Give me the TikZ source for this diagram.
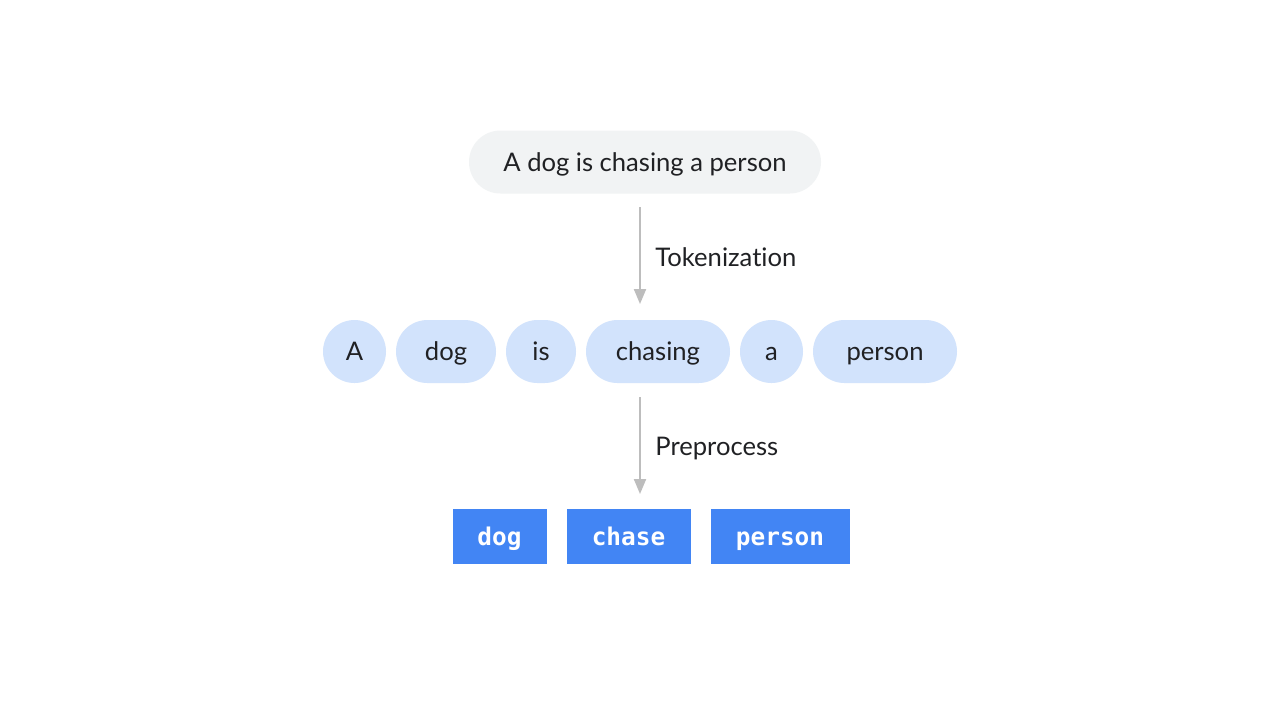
\documentclass[tikz,border=0pt]{standalone}
\usepackage{fontspec}
\setmainfont{Lato}[Ligatures=NoCommon]
\setmonofont{DejaVu Sans Mono}
\usetikzlibrary{arrows.meta,positioning}
\definecolor{sentgray}{HTML}{F1F3F4}
\definecolor{tokblue}{HTML}{D2E3FC}
\definecolor{procblue}{HTML}{4285F4}
\definecolor{arrgray}{HTML}{BDBDBD}
\definecolor{txt}{HTML}{202124}

\begin{document}
\begin{tikzpicture}[x=0.5pt,y=-0.5pt,
  token/.style={fill=tokblue,text=txt,minimum height=31.5pt,rounded corners=15.75pt,
    inner sep=0pt,outer sep=0pt,text height=11pt,text depth=2pt,
    font=\fontsize{12.8}{14}\selectfont},
  proc/.style={fill=procblue,text=white,minimum height=27.5pt,inner sep=0pt,outer sep=0pt,
    text height=10.8pt,text depth=2pt,font=\ttfamily\bfseries\fontsize{12.2}{14}\selectfont},
  flow/.style={draw=arrgray,line width=1pt,-{Triangle[width=6pt,length=7.5pt]}},
  lbl/.style={anchor=west,text=txt,inner sep=0pt,text height=11pt,text depth=2pt,
    font=\fontsize{12.8}{14}\selectfont}]
\useasboundingbox (0,0) rectangle (1280,720);
\fill[white] (0,0) rectangle (1280,720);
% sentence
\node[token,fill=sentgray,minimum width=176pt] (sent) at (645,162) {A dog is chasing a person};
% tokens
\node[token,minimum width=31.5pt] (tA) at (354.5,351.5) {A};
\node[token,minimum width=50pt,right=5pt of tA] (tdog) {dog};
\node[token,minimum width=35pt,right=5pt of tdog] (tis) {is};
\node[token,minimum width=72pt,right=5pt of tis] (tchasing) {chasing};
\node[token,minimum width=31.5pt,right=5pt of tchasing] (ta) {a};
\node[token,minimum width=72pt,right=5pt of ta] (tperson) {person};
% preprocessed
\node[proc,minimum width=47pt] (pdog) at (499.5,536.5) {dog};
\node[proc,minimum width=62pt,right=10pt of pdog] (pchase) {chase};
\node[proc,minimum width=69.5pt,right=10pt of pchase] (pperson) {person};
% arrows
\coordinate (a1s) at (640,207);
\coordinate (a1e) at (640,304);
\coordinate (a2s) at (640,397);
\coordinate (a2e) at (640,494);
\draw[flow] (a1s) -- (a1e);
\draw[flow] (a2s) -- (a2e);
\node[lbl] (ltok) at (655,257) {Tokenization};
\node[lbl] (lpre) at (655,446) {Preprocess};
\end{tikzpicture}
\end{document}
